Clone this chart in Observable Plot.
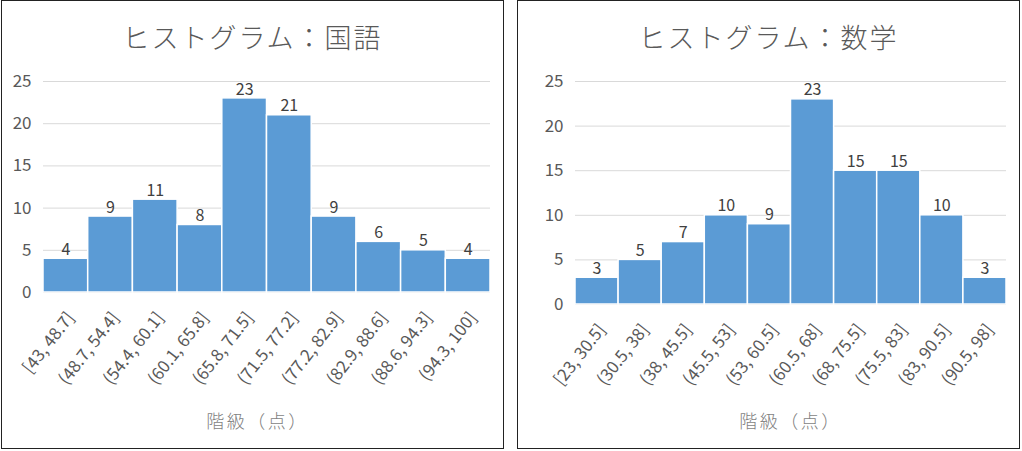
<!DOCTYPE html>
<html>
<head>
<meta charset="utf-8">
<script src="https://cdn.jsdelivr.net/npm/d3@7"></script>
<script src="https://cdn.jsdelivr.net/npm/@observablehq/plot@0.6"></script>
<style>
  html, body { margin: 0; padding: 0; background: #fff; }
  body { width: 1022px; height: 451px; position: relative; overflow: hidden;
         font-family: "Noto Sans CJK JP", "Noto Sans", sans-serif; }
  .panel { position: absolute; top: 0; width: 501px; height: 447px;
           border: 1.5px solid #222; background: #fff; }
  .title { height: 62px; line-height: 72px; text-align: center; font-size: 27px;
           color: #595959; letter-spacing: 2px; font-weight: 300; }
  .xlabel { position: absolute; width: 100%; top: 406px; text-align: center;
            font-size: 18px; color: #7f7f7f; font-weight: 300; letter-spacing: 2.5px; }
  svg { display: block; overflow: visible; }
</style>
</head>
<body>
<div id="p1" class="panel" style="left:1px"></div>
<div id="p2" class="panel" style="left:517px"></div>
<script>
const kokugoLabels = ["[43, 48.7]", "(48.7, 54.4]", "(54.4, 60.1]", "(60.1, 65.8]", "(65.8, 71.5]", "(71.5, 77.2]", "(77.2, 82.9]", "(82.9, 88.6]", "(88.6, 94.3]", "(94.3, 100]"];
const kokugoCounts = [4, 9, 11, 8, 23, 21, 9, 6, 5, 4];
const sugakuLabels = ["[23, 30.5]", "(30.5, 38]", "(38, 45.5]", "(45.5, 53]", "(53, 60.5]", "(60.5, 68]", "(68, 75.5]", "(75.5, 83]", "(83, 90.5]", "(90.5, 98]"];
const sugakuCounts = [3, 5, 7, 10, 9, 23, 15, 15, 10, 3];
const yTicks = [0, 5, 10, 15, 20, 25];
const titles = ["ヒストグラム：国語", "ヒストグラム：数学"];
const xTitle = "階級（点）";

function build(el, title, labels, counts, marginLeft, bottomY, labelShift) {
  const data = labels.map((l, i) => ({label: l, count: counts[i]}));
  const t = document.createElement("div");
  t.className = "title";
  t.textContent = title;
  el.appendChild(t);
  const chart = Plot.plot({
    width: 501,
    height: 340,
    marginTop: 18,
    marginBottom: 340 - bottomY,
    marginLeft,
    marginRight: 13,
    style: {fontFamily: '"Noto Sans CJK JP", sans-serif', color: "#595959", background: "#fff", overflow: "visible"},
    x: {domain: labels, padding: 0, round: false, label: null, axis: null},
    y: {domain: [0, 25], ticks: yTicks, label: null},
    marks: [
      Plot.gridY(yTicks, {stroke: "#d9d9d9", strokeOpacity: 1, strokeWidth: 1}),
      Plot.barY(data, {x: "label", y: "count", fill: "#5b9bd5", stroke: "#fff", strokeWidth: 1.5}),
      Plot.text(data, {x: "label", y: "count", text: d => String(d.count), dy: -9, fill: "#404040", fontSize: 16}),
      Plot.axisY(yTicks, {tickSize: 0, tickPadding: 12, fontSize: 17, fill: "#595959", label: null}),
      Plot.text(data, {x: "label", y: 0, text: "label", rotate: -52, textAnchor: "end", lineAnchor: "middle",
                       dx: 5, dy: 22, fontSize: 17, fill: "#595959"})
    ]
  });
  el.appendChild(chart);
  const xl = document.createElement("div");
  xl.className = "xlabel";
  xl.style.left = labelShift + "px";
  xl.textContent = xTitle;
  el.appendChild(xl);
}
build(document.getElementById("p1"), titles[0], kokugoLabels, kokugoCounts, 41, 229, 5);
build(document.getElementById("p2"), titles[1], sugakuLabels, sugakuCounts, 57, 241, 22);
</script>
</body>
</html>
